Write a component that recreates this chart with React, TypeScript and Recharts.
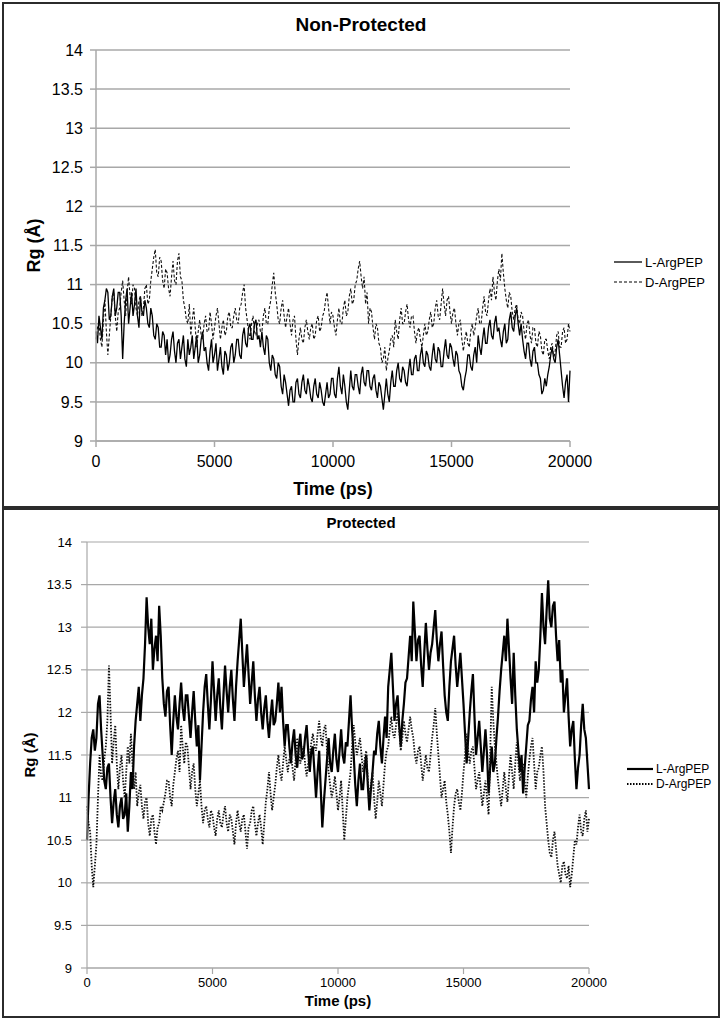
import React from 'react'
import { LineChart, Line, XAxis, YAxis, CartesianGrid, Legend } from 'recharts'

// sampled every 62.5 ps, 0..20000 (16 values per 1000 ps)
const STEP = 62.5

const topL = [
  10.4, 10.25, 10.6, 10.45, 10.3, 10.7, 10.8, 10.95, 10.9, 10.55, 10.6, 10.85, 10.95, 10.6, 10.7, 10.9,
  10.9, 10.6, 10.05, 10.5, 10.8, 10.95, 10.5, 10.7, 10.9, 10.6, 10.75, 10.95, 10.6, 10.45, 10.85, 10.65,
  10.6, 10.8, 10.7, 10.5, 10.45, 10.7, 10.6, 10.35, 10.3, 10.5, 10.45, 10.2, 10.2, 10.4, 10.35, 10.1,
  10.3, 10.0, 10.1, 10.3, 10.4, 10.15, 10.0, 10.25, 10.3, 10.05, 10.2, 10.35, 10.05, 9.95, 10.3, 10.1,
  10.2, 10.35, 10.05, 10.2, 10.35, 10.0, 10.1, 10.3, 10.4, 10.15, 10.2, 10.0, 9.9, 10.15, 10.3, 10.0,
  10.1, 10.25, 9.9, 10.05, 10.2, 9.95, 9.85, 10.15, 10.1, 9.9, 10.0, 10.2, 10.25, 10.0, 10.1, 10.3,
  10.3, 10.1, 10.05, 10.35, 10.45, 10.25, 10.2, 10.45, 10.5, 10.3, 10.3, 10.5, 10.55, 10.3, 10.35, 10.2,
  10.4, 10.2, 10.1, 10.35, 10.3, 10.0, 9.9, 10.1, 10.05, 9.85, 9.8, 10.0, 9.95, 9.7, 9.6, 9.85,
  9.75, 9.6, 9.45, 9.65, 9.7, 9.5, 9.5, 9.75, 9.8, 9.6, 9.55, 9.75, 9.85, 9.65, 9.6, 9.8,
  9.7, 9.55, 9.5, 9.7, 9.8, 9.6, 9.55, 9.75, 9.65, 9.5, 9.45, 9.6, 9.75, 9.55, 9.6, 9.8,
  9.8, 9.6, 9.55, 9.8, 9.95, 9.7, 9.6, 9.85, 9.7, 9.5, 9.4, 9.65, 9.9, 9.7, 9.65, 9.85,
  9.85, 9.7, 9.6, 9.85, 9.95, 9.75, 9.7, 9.9, 9.9, 9.7, 9.65, 9.8, 9.85, 9.65, 9.55, 9.75,
  9.7, 9.55, 9.4, 9.6, 9.8, 9.6, 9.5, 9.75, 9.9, 9.7, 9.7, 9.9, 10.0, 9.8, 9.75, 9.95,
  9.9, 9.75, 9.7, 9.9, 10.05, 9.85, 9.85, 10.05, 10.1, 9.9, 9.9, 10.1, 10.2, 10.0, 9.95, 10.15,
  10.1, 9.95, 9.9, 10.1, 10.25, 10.05, 10.0, 10.2, 10.15, 9.95, 9.95, 10.15, 10.3, 10.1, 10.05, 10.25,
  10.2, 10.05, 9.95, 10.15, 10.1, 9.9, 9.85, 9.7, 9.65, 9.8, 9.9, 10.1, 10.1, 9.95, 9.9, 10.1,
  10.2, 10.0, 10.35, 10.2, 10.1, 10.3, 10.45, 10.25, 10.25, 10.45, 10.55, 10.35, 10.3, 10.5, 10.6, 10.4,
  10.45, 10.3, 10.2, 10.4, 10.5, 10.25, 10.3, 10.55, 10.65, 10.45, 10.4, 10.6, 10.7, 10.5, 10.35, 10.5,
  10.3, 10.15, 10.05, 10.25, 10.25, 10.05, 9.95, 10.15, 10.2, 10.0, 10.0, 9.85, 9.8, 9.6, 9.65, 9.8,
  9.7, 9.85, 9.95, 10.1, 10.2, 10.05, 10.0, 10.2, 10.3, 10.1, 9.9, 9.7, 9.55, 9.75, 9.85, 9.5,
  9.9,
]

const topD = [
  10.3, 10.45, 10.5, 10.3, 10.2, 10.55, 10.8, 10.4, 10.1, 10.35, 10.6, 10.85, 10.9, 10.6, 10.4, 10.65,
  10.7, 10.9, 11.05, 10.8, 10.6, 10.9, 11.1, 10.85, 10.75, 11.0, 10.95, 10.7, 10.6, 10.8, 10.85, 10.6,
  10.7, 10.95, 11.0, 10.75, 10.8, 11.05, 11.2, 11.35, 11.45, 11.15, 11.1, 11.35, 11.3, 11.05, 10.95, 11.2,
  11.15, 10.95, 10.85, 11.1, 11.3, 11.05, 11.0, 11.3, 11.4, 11.1, 11.05, 10.8, 10.7, 10.55, 10.5, 10.75,
  10.35, 10.55, 10.7, 10.45, 10.2, 10.4, 10.55, 10.35, 10.3, 10.5, 10.6, 10.4, 10.4, 10.65, 10.5, 10.3,
  10.45, 10.6, 10.7, 10.5, 10.3, 10.45, 10.55, 10.35, 10.4, 10.6, 10.65, 10.45, 10.45, 10.6, 10.7, 10.55,
  10.5, 10.7, 10.75, 10.9, 11.0, 10.7, 10.55, 10.4, 10.3, 10.5, 10.6, 10.4, 10.35, 10.5, 10.55, 10.4,
  10.4, 10.6, 10.7, 10.5, 10.5, 10.7, 10.8, 11.0, 11.15, 10.9, 10.75, 10.55, 10.5, 10.7, 10.8, 10.6,
  10.45, 10.6, 10.7, 10.5, 10.35, 10.55, 10.6, 10.3, 10.1, 10.3, 10.45, 10.3, 10.25, 10.45, 10.55, 10.4,
  10.3, 10.45, 10.5, 10.3, 10.35, 10.55, 10.6, 10.4, 10.45, 10.6, 10.65, 10.8, 10.9, 10.7, 10.5, 10.65,
  10.6, 10.45, 10.35, 10.55, 10.7, 10.5, 10.5, 10.7, 10.8, 10.6, 10.65, 10.85, 10.95, 10.75, 10.8, 11.0,
  11.05, 11.2, 11.3, 11.1, 10.95, 11.1, 10.75, 10.9, 10.5, 10.7, 10.65, 10.45, 10.3, 10.5, 10.45, 10.25,
  10.2, 10.0, 10.05, 10.2, 9.9, 10.05, 10.15, 10.3, 10.35, 10.2, 10.55, 10.4, 10.3, 10.55, 10.7, 10.5,
  10.5, 10.65, 10.75, 10.55, 10.45, 10.6, 10.6, 10.4, 10.25, 10.4, 10.45, 10.3, 10.2, 10.35, 10.5, 10.35,
  10.4, 10.55, 10.65, 10.45, 10.5, 10.7, 10.8, 10.6, 10.55, 10.75, 10.95, 10.75, 10.6, 10.8, 10.85, 10.65,
  10.5, 10.65, 10.7, 10.5, 10.35, 10.5, 10.55, 10.3, 10.15, 10.3, 10.4, 10.25, 10.2, 10.4, 10.5, 10.35,
  10.45, 10.6, 10.7, 10.5, 10.5, 10.7, 10.85, 10.65, 10.6, 10.8, 10.95, 10.8, 11.1, 10.9, 10.8, 11.05,
  11.2, 11.05, 11.4, 11.15, 10.95, 10.8, 10.7, 10.9, 10.85, 10.65, 10.55, 10.7, 10.75, 10.55, 10.5, 10.65,
  10.6, 10.4, 10.3, 10.5, 10.55, 10.35, 10.25, 10.45, 10.45, 10.25, 10.2, 10.4, 10.35, 10.15, 10.1, 10.3,
  10.3, 10.15, 10.05, 10.2, 10.25, 10.05, 10.15, 10.35, 10.4, 10.2, 10.2, 10.4, 10.45, 10.25, 10.3, 10.5,
  10.4,
]

const botL = [
  10.5, 11.0, 11.4, 11.7, 11.8, 11.55, 11.7, 12.1, 12.2, 11.8, 11.5, 11.2, 11.1, 11.35, 11.4, 11.0,
  10.7, 10.95, 11.1, 10.8, 10.65, 10.9, 11.0, 10.75, 10.8, 11.05, 10.6, 10.9, 11.3, 11.1, 11.6, 11.9,
  12.1, 12.3, 11.9, 12.2, 12.4, 12.8, 13.35, 13.0, 12.8, 13.1, 12.5, 12.75, 12.9, 12.6, 13.25, 12.9,
  12.4, 12.1, 11.95, 12.25, 12.3, 11.85, 11.5, 11.9, 12.2, 11.95, 11.8, 12.1, 12.35, 12.05, 11.9, 12.2,
  12.2, 11.95, 11.7, 12.0, 12.25, 11.9, 11.6, 11.85, 11.2, 11.6, 12.0, 12.3, 12.45, 12.1, 11.8, 12.15,
  12.6, 12.25, 11.9, 12.2, 12.4, 12.05, 11.8, 12.2, 12.55, 12.25, 12.0, 12.3, 12.5, 12.15, 11.9, 12.3,
  12.6, 12.85, 13.1, 12.7, 12.3, 12.55, 12.8, 12.45, 12.1, 12.35, 12.6, 12.2, 11.9, 12.15, 12.3, 12.0,
  11.8, 12.05, 12.2, 11.9, 11.7, 11.95, 12.15, 11.85, 11.9, 12.1, 12.35, 12.0, 12.3, 11.9, 11.6, 11.85,
  11.85, 11.6, 11.4, 11.65, 11.8, 11.5, 11.35, 11.6, 11.75, 11.45, 11.5, 11.7, 11.85, 11.55, 11.3, 11.55,
  11.6, 11.3, 11.0, 11.3, 11.55, 11.1, 10.65, 10.95, 11.2, 11.45, 11.7, 11.4, 11.3, 11.55, 11.75, 11.45,
  11.3, 11.55, 11.8, 11.5, 11.4, 11.65, 11.6, 11.9, 12.2, 11.8, 11.5, 11.15, 10.9, 11.2, 11.4, 11.1,
  11.1, 11.35, 11.5, 11.15, 10.85, 11.1, 11.3, 11.55, 11.5, 11.75, 11.9, 11.6, 11.4, 11.7, 11.95, 11.7,
  12.3, 12.5, 12.7, 12.3, 11.9, 12.1, 12.2, 11.85, 11.6, 11.9, 12.1, 12.35, 12.4, 12.65, 12.9, 12.6,
  13.3, 12.95, 12.6, 12.85, 12.9, 12.55, 12.3, 12.7, 13.05, 12.75, 12.5, 12.7, 12.8, 13.0, 13.2, 12.85,
  12.6, 12.8, 12.95, 12.55, 12.2, 12.0, 11.9, 12.3, 12.6, 12.75, 12.9, 12.55, 12.3, 12.5, 12.7, 12.4,
  12.1, 11.75, 11.4, 11.7, 12.0, 12.25, 12.45, 11.95, 11.5, 11.7, 11.9, 11.6, 11.3, 11.55, 11.8, 11.5,
  11.05, 11.35, 11.6, 11.3, 11.4, 11.7, 11.95, 12.25, 12.5, 12.7, 12.9, 12.6, 13.1, 12.75, 12.4, 12.1,
  12.7, 12.2, 11.8, 11.55, 11.3, 11.5, 11.05, 11.35, 11.6, 11.85, 11.9, 12.15, 12.3, 12.0, 12.6, 12.35,
  12.5, 12.9, 13.4, 13.0, 12.8, 13.2, 13.55, 13.1, 13.0, 13.25, 13.3, 12.9, 12.6, 12.85, 12.35, 12.5,
  12.0, 12.2, 12.4, 11.95, 11.6, 11.8, 11.9, 11.45, 11.1, 11.35, 11.5, 11.85, 12.1, 11.8, 11.7, 11.4,
  11.1,
]

const botD = [
  10.9, 10.7, 10.6, 10.2, 9.95, 10.2, 10.45, 11.0, 11.5, 11.25, 11.2, 11.45, 11.6, 11.9, 12.55, 12.0,
  11.4, 11.65, 11.85, 11.4, 11.1, 11.35, 11.5, 11.2, 11.0, 11.3, 11.6, 11.4, 11.75, 11.4, 11.1, 11.3,
  10.9, 11.05, 11.15, 10.9, 10.75, 10.95, 11.0, 10.7, 10.55, 10.75, 10.8, 10.6, 10.45, 10.65, 10.7, 10.9,
  10.85, 10.95, 11.05, 11.2, 11.2, 11.0, 10.9, 11.15, 11.3, 11.45, 11.55, 11.3, 11.85, 11.6, 11.4, 11.65,
  11.6, 11.35, 11.1, 11.3, 11.4, 11.1, 10.9, 11.05, 11.2, 10.9, 10.7, 10.85, 10.9, 10.75, 10.65, 10.85,
  10.8, 10.65, 10.55, 10.75, 10.85, 10.7, 10.65, 10.8, 10.9, 10.7, 10.6, 10.8, 10.75, 10.6, 10.45, 10.7,
  10.85, 10.7, 10.6, 10.75, 10.8, 10.6, 10.4, 10.65, 10.7, 10.85, 10.9, 10.7, 10.55, 10.7, 10.8, 10.65,
  10.45, 10.7, 10.95, 11.1, 11.3, 11.05, 10.85, 11.0, 11.15, 11.35, 11.5, 11.3, 11.2, 11.4, 11.6, 11.45,
  11.3, 11.45, 11.5, 11.35, 11.2, 11.45, 11.7, 11.5, 11.4, 11.55, 11.6, 11.4, 11.25, 11.4, 11.5, 11.65,
  11.75, 11.6, 11.55, 11.75, 11.9, 11.7, 11.6, 11.8, 11.85, 11.55, 11.3, 11.15, 11.0, 11.1, 11.25, 11.05,
  10.85, 11.0, 11.2, 10.85, 10.5, 10.75, 11.0, 11.15, 11.3, 11.6, 11.85, 11.65, 11.5, 11.6, 11.7, 11.5,
  11.3, 11.45, 11.55, 11.2, 11.0, 11.15, 11.3, 11.0, 10.75, 10.95, 11.2, 11.05, 10.9, 11.15, 11.4, 11.55,
  11.6, 11.8, 11.95, 11.75, 11.7, 11.85, 12.0, 11.8, 11.55, 11.7, 11.9, 11.75, 11.65, 11.8, 11.95, 11.8,
  11.7, 11.5, 11.4, 11.55, 11.6, 11.4, 11.2, 11.35, 11.5, 11.35, 11.3, 11.5, 11.7, 11.85, 12.05, 11.75,
  11.5, 11.25, 11.0, 11.1, 11.2, 10.95, 10.8, 10.6, 10.35, 10.65, 10.9, 11.05, 11.1, 10.95, 10.85, 11.05,
  11.3, 11.5, 11.75, 11.55, 11.4, 11.55, 11.6, 11.35, 11.1, 11.2, 11.3, 11.1, 10.9, 11.05, 11.2, 11.0,
  10.8, 11.5, 12.3, 11.9, 11.6, 11.4, 11.2, 11.05, 10.9, 11.1, 11.3, 11.1, 10.95, 11.25, 11.5, 11.3,
  11.1, 11.4, 11.65, 11.4, 11.2, 11.35, 11.4, 11.2, 11.0, 11.25, 11.45, 11.6, 11.7, 11.4, 11.1, 11.3,
  11.35, 11.5, 11.6, 11.3, 10.9, 10.7, 10.5, 10.35, 10.3, 10.5, 10.6, 10.4, 10.2, 10.1, 10.0, 10.2,
  10.25, 10.1, 10.05, 10.2, 9.95, 10.1, 10.3, 10.5, 10.45, 10.65, 10.8, 10.6, 10.55, 10.75, 10.85, 10.6,
  10.75,
]

const xTicks = [0, 5000, 10000, 15000, 20000]
const yTicks = [9, 9.5, 10, 10.5, 11, 11.5, 12, 12.5, 13, 13.5, 14]
const seriesNames = ['L-ArgPEP', 'D-ArgPEP']

const topData = topL.map((v, i) => ({ t: i * STEP, l: v, d: topD[i] }))
const botData = botL.map((v, i) => ({ t: i * STEP, l: v, d: botD[i] }))

const FONT = "'Liberation Sans', Arial, Helvetica, sans-serif"
const GRID = '#a8a8a8'

type KeyItem = { label: string; width: number; dash?: string }

function SeriesKey({ items, fontSize, rowH, lineLen }: { items: KeyItem[]; fontSize: number; rowH: number; lineLen: number }) {
  return (
    <div style={{ fontFamily: FONT, fontSize, color: '#000' }}>
      {items.map((it) => (
        <div key={it.label} style={{ display: 'flex', alignItems: 'center', height: rowH, whiteSpace: 'nowrap' }}>
          <svg width={lineLen} height={6} style={{ display: 'block' }}>
            <line x1={0} y1={3} x2={lineLen} y2={3} stroke="#000" strokeWidth={it.width} strokeDasharray={it.dash} />
          </svg>
          <span style={{ marginLeft: 3 }}>{it.label}</span>
        </div>
      ))}
    </div>
  )
}

export default function App() {
  return (
    <div style={{ position: 'absolute', left: 0, top: 0, width: 722, height: 1020, background: '#fff', fontFamily: FONT }}>
      {/* top panel */}
      <div style={{ position: 'absolute', left: 2, top: 2, width: 718, height: 506, border: '2px solid #2b2b2b', boxSizing: 'border-box' }} />
      <div style={{ position: 'absolute', left: 0, top: 14, width: 722, textAlign: 'center', fontSize: 19, fontWeight: 'bold' }}>
        Non-Protected
      </div>
      <div style={{ position: 'absolute', left: 0, top: 0 }}>
        <LineChart width={722} height={508} data={topData} margin={{ top: 50, right: 152, left: 30, bottom: 17 }}>
          <CartesianGrid vertical={false} stroke={GRID} strokeWidth={1.5} />
          <XAxis
            dataKey="t"
            type="number"
            domain={[0, 20000]}
            ticks={xTicks}
            height={50}
            stroke={GRID}
            strokeWidth={1.5}
            tickSize={6}
            tickMargin={9}
            tick={{ fill: '#000', fontSize: 16, fontFamily: FONT }}
            label={{ value: 'Time (ps)', position: 'insideBottom', offset: -4, style: { fill: '#000', fontSize: 18, fontWeight: 'bold', fontFamily: FONT } }}
          />
          <YAxis
            type="number"
            domain={[9, 14]}
            ticks={yTicks}
            width={66}
            stroke={GRID}
            strokeWidth={1.5}
            tickSize={6}
            tickMargin={7}
            tick={{ fill: '#000', fontSize: 16, fontFamily: FONT }}
            label={{ value: 'Rg (Å)', angle: -90, position: 'insideLeft', offset: 4, style: { textAnchor: 'middle', fill: '#000', fontSize: 18, fontWeight: 'bold', fontFamily: FONT } }}
          />
          <Legend
            layout="vertical"
            align="center"
            verticalAlign="middle"
            wrapperStyle={{ left: 614, top: 252, width: 100 }}
            content={() => (
              <SeriesKey
                fontSize={13}
                rowH={20}
                lineLen={28}
                items={[
                  { label: seriesNames[0], width: 1.3 },
                  { label: seriesNames[1], width: 1.2, dash: '3 2' },
                ]}
              />
            )}
          />
          <Line dataKey="l" name={seriesNames[0]} stroke="#000" strokeWidth={1.3} dot={false} isAnimationActive={false} />
          <Line dataKey="d" name={seriesNames[1]} stroke="#111" strokeWidth={1.1} strokeDasharray="3 2" dot={false} isAnimationActive={false} />
        </LineChart>
      </div>

      {/* bottom panel */}
      <div style={{ position: 'absolute', left: 2, top: 508, width: 718, height: 510, border: '2px solid #2b2b2b', boxSizing: 'border-box' }} />
      <div style={{ position: 'absolute', left: 0, top: 514, width: 722, textAlign: 'center', fontSize: 15, fontWeight: 'bold' }}>
        Protected
      </div>
      <div style={{ position: 'absolute', left: 0, top: 508 }}>
        <LineChart width={722} height={510} data={botData} margin={{ top: 34, right: 133, left: 25, bottom: 10 }}>
          <CartesianGrid vertical={false} stroke={GRID} strokeWidth={1.2} />
          <XAxis
            dataKey="t"
            type="number"
            domain={[0, 20000]}
            ticks={xTicks}
            height={40}
            stroke={GRID}
            strokeWidth={1.2}
            tickSize={6}
            tickMargin={4}
            tick={{ fill: '#000', fontSize: 13, fontFamily: FONT }}
            label={{ value: 'Time (ps)', position: 'insideBottom', offset: 2, style: { fill: '#000', fontSize: 15, fontWeight: 'bold', fontFamily: FONT } }}
          />
          <YAxis
            type="number"
            domain={[9, 14]}
            ticks={yTicks}
            width={62}
            stroke={GRID}
            strokeWidth={1.2}
            tickSize={6}
            tickMargin={9}
            tick={{ fill: '#000', fontSize: 13, fontFamily: FONT }}
            label={{ value: 'Rg (Å)', angle: -90, position: 'insideLeft', offset: 5, style: { textAnchor: 'middle', fill: '#000', fontSize: 15, fontWeight: 'bold', fontFamily: FONT } }}
          />
          <Legend
            layout="vertical"
            align="center"
            verticalAlign="middle"
            wrapperStyle={{ left: 627, top: 253, width: 90 }}
            content={() => (
              <SeriesKey
                fontSize={12}
                rowH={15}
                lineLen={26}
                items={[
                  { label: seriesNames[0], width: 2.2 },
                  { label: seriesNames[1], width: 2, dash: '1.5 1.5' },
                ]}
              />
            )}
          />
          <Line dataKey="l" name={seriesNames[0]} stroke="#000" strokeWidth={2.2} dot={false} isAnimationActive={false} />
          <Line dataKey="d" name={seriesNames[1]} stroke="#111" strokeWidth={1.8} strokeDasharray="1.5 1.5" dot={false} isAnimationActive={false} />
        </LineChart>
      </div>
    </div>
  )
}
